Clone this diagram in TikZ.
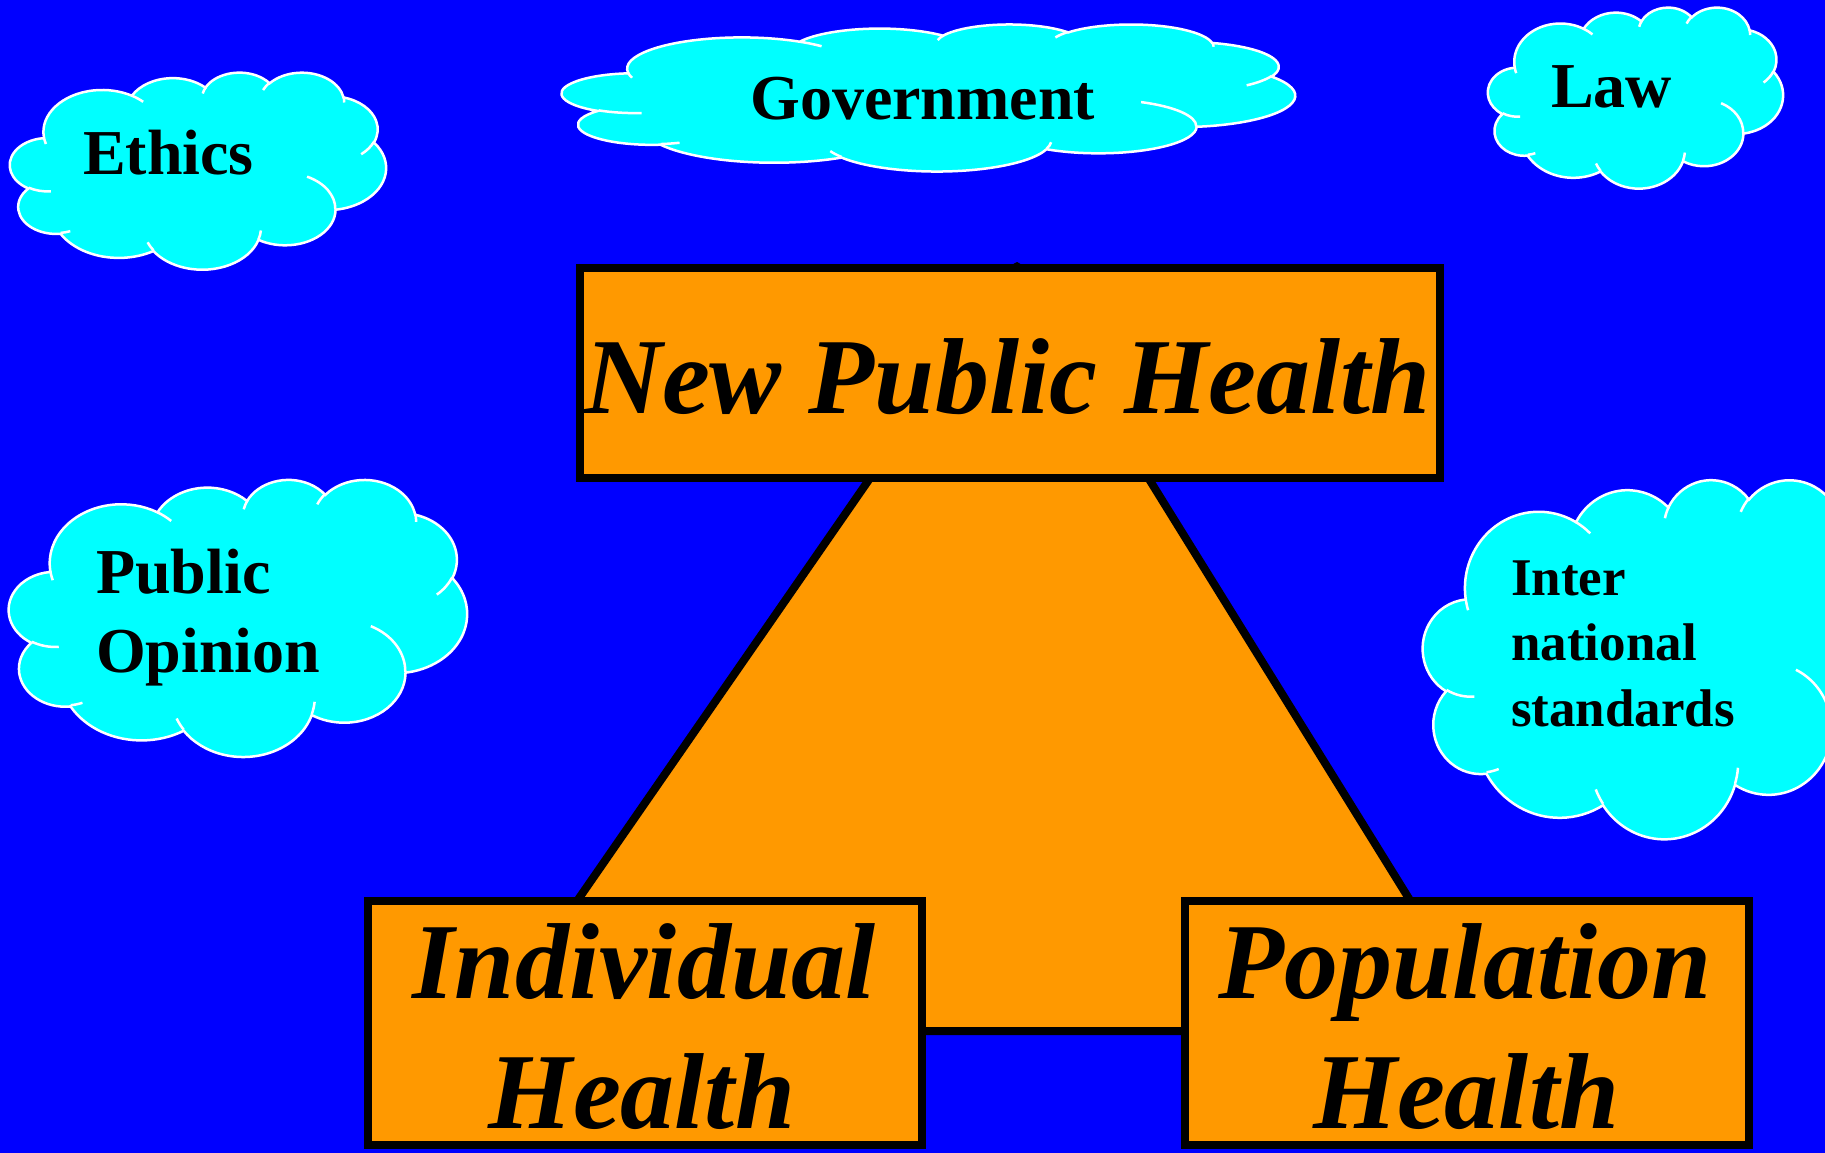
\documentclass[tikz,border=0pt]{standalone}
\usepackage{fontspec}
\setmainfont{Liberation Serif}
\definecolor{slideblue}{HTML}{0000FF}
\definecolor{cloudcyan}{HTML}{00FFFF}
\definecolor{boxorange}{HTML}{FF9900}
\newcommand\cloudfont{\fontsize{64}{64}\selectfont\bfseries}
\newcommand\smallcloudfont{\fontsize{53}{53}\selectfont\bfseries}
\newcommand\boxfont{\fontsize{108}{108}\selectfont\bfseries\itshape}
\tikzset{
  cloudline/.style={draw=white,line width=2.5pt},
  cloudtext/.style={font=\cloudfont,anchor=base west,inner sep=0pt},
  smallcloudtext/.style={font=\smallcloudfont,anchor=base west,inner sep=0pt},
  healthbox/.style={draw=black,line width=8pt,fill=boxorange,inner sep=0pt},
  boxtext/.style={font=\boxfont,anchor=base,inner sep=0pt},
  pyramid/.style={draw=black,line width=8pt,line join=round,fill=boxorange},
}
% elliptic arc, angles given as seen (not parametric)
\newcommand\ooarc[4]{%
  \pgfextra{%
    \pgfmathparse{atan2((#1)*sin(#3),(#2)*cos(#3))}\global\let\arcts\pgfmathresult
    \pgfmathparse{atan2((#1)*sin((#3)+(#4)),(#2)*cos((#3)+(#4)))}\global\let\arcte\pgfmathresult
    \pgfmathparse{mod(\arcte-(\arcts)+720,360)}\global\let\arcdt\pgfmathresult}%
  arc[x radius=#1,y radius=#2,start angle=\arcts,delta angle=\arcdt]}
% cloud: left, top, width, height
\newcommand\cloudat[4]{%
  \begin{scope}[shift={(#1,#2)},xscale=#3/43.2,yscale=#4/43.2]
    \filldraw[cloudline,fill=cloudcyan] (3.9,14.37)
      \ooarc{6.753}{9.19}{-190.48748}{123.78053}
      \ooarc{5.333}{7.267}{-144.10238}{89.94523}
      \ooarc{4.365}{5.945}{-145.80792}{99.72302}
      \ooarc{4.857}{6.595}{-130.98607}{117.24173}
      \ooarc{5.333}{7.273}{-78.70888}{109.02692}
      \ooarc{6.775}{9.22}{-46.26725}{130.269}
      \ooarc{5.785}{7.867}{0.62502}{114.03333}
      \ooarc{6.752}{9.215}{22.4516}{115.17255}
      \ooarc{7.72}{10.543}{66.24263}{75.71102}
      \ooarc{4.36}{5.918}{-274.94208}{146.73557}
      \ooarc{4.345}{5.945}{-246.8285}{152.51885} -- cycle;
    \draw[cloudline]
      (4.693,26.177) \ooarc{4.345}{5.945}{86.742}{26.4295}
      (6.928,34.899) \ooarc{4.36}{5.918}{73.61047}{11.44747}
      (16.478,39.09) \ooarc{6.752}{9.215}{137.62415}{14.0811}
      (28.827,34.751) \ooarc{6.752}{9.215}{6.45327}{15.99835}
      (34.129,22.954) \ooarc{5.785}{7.867}{-70.29235}{70.91737}
      (41.798,15.354) \ooarc{5.333}{7.273}{30.31803}{27.7515}
      (38.324,5.426) \ooarc{4.857}{6.595}{-13.74433}{14.8589}
      (29.078,3.952) \ooarc{4.857}{6.595}{-149.18145}{18.19537}
      (22.141,4.72) \ooarc{4.365}{5.945}{-163.49427}{17.68635}
      (14,5.192) \ooarc{6.753}{9.19}{-66.70695}{12.31935}
      (4.127,15.789) \ooarc{6.753}{9.19}{157.65435}{11.85817};
  \end{scope}}
\begin{document}
\begin{tikzpicture}[x=1pt,y=-1pt]
  \useasboundingbox (0,0) rectangle (1825,1153);
  \fill[slideblue] (0,0) rectangle (1825,1153);
  % clouds
  \cloudat{10}{72}{376}{197}
  \cloudat{562}{24}{733}{147}
  \cloudat{1488}{7}{295}{181}
  \cloudat{9}{479}{458}{277}
  \cloudat{1423}{479}{472}{359}
  \node[cloudtext] (ethics) at (83,175) {Ethics};
  \node[cloudtext] (government) at (750,120) {Government};
  \node[cloudtext] (law) at (1551,108) {Law};
  \node[cloudtext] (public) at (96,593) {Public};
  \node[cloudtext] (opinion) at (96,672) {Opinion};
  \node[smallcloudtext] (inter) at (1511,595) {Inter};
  \node[smallcloudtext] (national) at (1511,660) {national};
  \node[smallcloudtext] (standards) at (1511,726) {standards};
  % pyramid behind the boxes
  \draw[pyramid] (1017,266) -- (1491,1031) -- (487,1031) -- cycle;
  % boxes
  \node[healthbox,minimum width=860pt,minimum height=210pt] (nph) at (1010,373) {};
  \node[healthbox,minimum width=554pt,minimum height=244pt] (indiv) at (645,1023) {};
  \node[healthbox,minimum width=564pt,minimum height=244pt] (popul) at (1467,1023) {};
  \node[boxtext] (nphtext) at (1007,413) {New Public Health};
  \node[boxtext] (indivtext) at (644,998) {Individual};
  \node[boxtext] (indivhealth) at (642,1128) {Health};
  \node[boxtext] (popultext) at (1465,998) {Population};
  \node[boxtext] (populhealth) at (1466,1128) {Health};
\end{tikzpicture}
\end{document}
